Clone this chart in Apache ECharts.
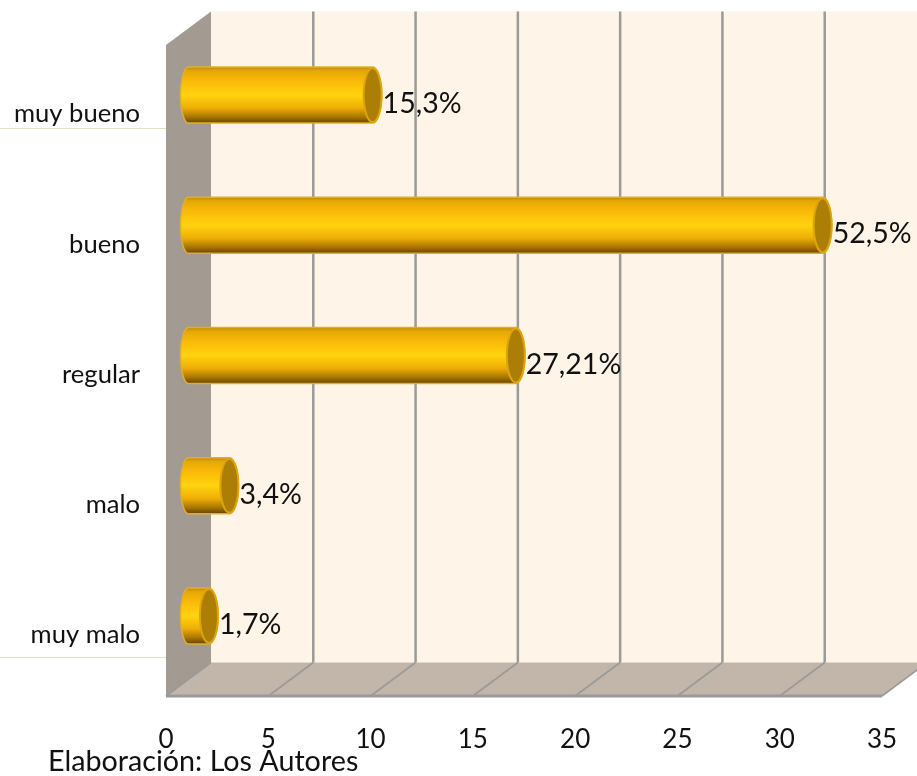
<!DOCTYPE html>
<html><head><meta charset="utf-8">
<style>html,body{margin:0;padding:0;background:#fff}#c{width:917px;height:776px}</style>
<script src="https://cdn.jsdelivr.net/npm/echarts@6/dist/echarts.min.js"></script>
</head><body><div id="c"></div>
<script>
const categories = ['muy bueno','bueno','regular','malo','muy malo'];
const counts = [9,31,16,2,1];
const percentLabels = ['15,3%','52,5%','27,21%','3,4%','1,7%'];
const xTicks = [0,5,10,15,20,25,30,35];
const sourceNote = 'Elaboración: Los Autores';

const FONT = 'Lato';
const DX = 45, DY = -33.5;
const chart = echarts.init(document.getElementById('c'), null, {renderer:'canvas'});

function frame(params, api){
  const h = api.size([0,1])[1];
  const tl = api.coord([0,0]); const top = tl[1]-h/2;
  const bl = api.coord([0,categories.length-1]); const bottom = bl[1]+h/2;
  const x0 = tl[0], x1 = api.coord([xTicks[xTicks.length-1],0])[0];
  const kids = [];
  const poly = (pts,fill)=>({type:'polygon',shape:{points:pts},style:{fill:fill},silent:true});
  const line = (a,b,w,c)=>({type:'line',shape:{x1:a[0],y1:a[1],x2:b[0],y2:b[1]},style:{stroke:c||'#9A9A98',lineWidth:w},silent:true});
  kids.push(poly([[x0+DX,top+DY],[x1+DX,top+DY],[x1+DX,bottom+DY],[x0+DX,bottom+DY]],'#FEF4E8'));
  kids.push(poly([[x0,top],[x0+DX,top+DY],[x0+DX,bottom+DY],[x0,bottom]],'#A39A92'));
  kids.push(poly([[x0,bottom],[x0+DX,bottom+DY],[x1+DX,bottom+DY],[x1,bottom]],'#C2B6AB'));
  xTicks.forEach(t=>{
    const x = api.coord([t,0])[0];
    if(t>0) kids.push(line([x+DX,top+DY],[x+DX,bottom+DY],2.5));
    kids.push(line([x,bottom],[x+DX,bottom+DY],1.6));
  });
  kids.push(line([x0,bottom],[x1,bottom],3,'#9C9A98'));
  return {type:'group',children:kids};
}

function cylinder(params, api){
  const idx = api.value(0), val = api.value(1);
  const p0 = api.coord([0,idx]), p1 = api.coord([val,idx]);
  const ox = 22.5, oy = -15, ry = 28;
  const rxL = 8, rxR = 9;
  const cy = p0[1]+oy, xa = p0[0]+ox, xb = p1[0]+ox;
  const k = 0.5523;
  const body = `M${xa} ${cy-ry} L${xb} ${cy-ry} C${xb+rxR*k} ${cy-ry} ${xb+rxR} ${cy-ry*k} ${xb+rxR} ${cy} C${xb+rxR} ${cy+ry*k} ${xb+rxR*k} ${cy+ry} ${xb} ${cy+ry} L${xa} ${cy+ry} C${xa-rxL*k} ${cy+ry} ${xa-rxL} ${cy+ry*k} ${xa-rxL} ${cy} C${xa-rxL} ${cy-ry*k} ${xa-rxL*k} ${cy-ry} ${xa} ${cy-ry} Z`;
  return {type:'group',children:[
    {type:'path',shape:{pathData:body},silent:true,style:{
      fill:new echarts.graphic.LinearGradient(0,0,0,1,[
        {offset:0,color:'#B98504'},{offset:0.08,color:'#E5A805'},{offset:0.25,color:'#FAB908'},
        {offset:0.5,color:'#FFD30F'},{offset:0.72,color:'#F0AE06'},{offset:0.88,color:'#A87602'},
        {offset:0.97,color:'#704D00'},{offset:1,color:'#6A4800'}]),
      stroke:'#E2AE2A',lineWidth:1.5}},
    {type:'ellipse',shape:{cx:xb,cy:cy,rx:rxR,ry:ry-1},silent:true,style:{fill:'#AD7E06',stroke:'#DCA50F',lineWidth:2}},
    {type:'text',silent:true,style:{x:xb+rxR+1,y:cy+9,text:percentLabels[idx],fill:'#111',
      font:`28.5px ${FONT}`,textAlign:'left',textVerticalAlign:'middle'}}
  ]};
}

chart.setOption({
  animation:false,
  backgroundColor:'#fff',
  title:{text:sourceNote,left:48,top:747,textStyle:{fontFamily:FONT,fontSize:28.7,fontWeight:'normal',color:'#111'},padding:0},
  grid:{left:166,right:35,top:45,bottom:80,containLabel:false},
  xAxis:{type:'value',min:0,max:35,interval:5,position:'bottom',
    axisLine:{show:false},axisTick:{show:false},splitLine:{show:false},
    axisLabel:{fontFamily:FONT,fontSize:26,color:'#111',margin:31}},
  yAxis:{type:'category',inverse:true,data:categories,
    axisLine:{show:false},axisTick:{show:false},splitLine:{show:false},
    axisLabel:{fontFamily:FONT,fontSize:25.6,color:'#111',margin:26,verticalAlign:'top',lineHeight:8}},
  graphic:[
    {type:'line',shape:{x1:0,y1:128.5,x2:166,y2:128.5},style:{stroke:'#E8DFC6',lineWidth:1},z:1},
    {type:'line',shape:{x1:0,y1:657.5,x2:166,y2:657.5},style:{stroke:'#E8DFC6',lineWidth:1},z:1}
  ],
  series:[
    {type:'custom',coordinateSystem:'cartesian2d',z:1,clip:false,renderItem:frame,data:[[0,0]],encode:{x:0,y:1},silent:true},
    {type:'custom',coordinateSystem:'cartesian2d',z:3,clip:false,renderItem:cylinder,silent:true,
      data:categories.map((c,i)=>[i,counts[i]]),encode:{x:1,y:0}}
  ]
});
</script></body></html>
